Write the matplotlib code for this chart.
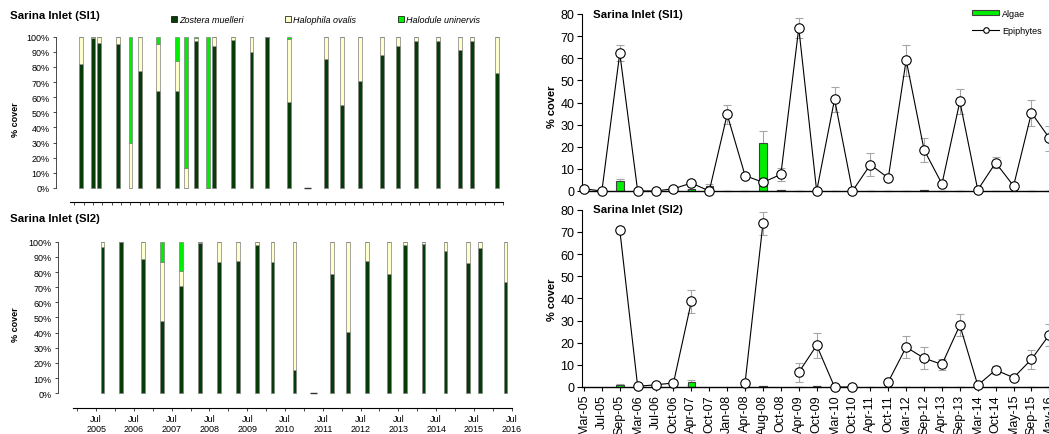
import numpy as np
import pandas as pd
import matplotlib
matplotlib.use('Agg')
import matplotlib.pyplot as plt
from matplotlib.patches import Patch
from matplotlib.lines import Line2D

plt.rcParams['font.family'] = ['Liberation Sans', 'DejaVu Sans']

# survey occasions (right hand panels, categorical axis)
surveys = ['Mar-05', 'Jul-05', 'Sep-05', 'Mar-06', 'Jul-06', 'Oct-06', 'Apr-07', 'Oct-07',
           'Jan-08', 'Apr-08', 'Aug-08', 'Oct-08', 'Apr-09', 'Oct-09', 'Mar-10', 'Oct-10',
           'Apr-11', 'Oct-11', 'Mar-12', 'Sep-12', 'Apr-13', 'Sep-13', 'Mar-14', 'Oct-14',
           'May-15', 'Sep-15', 'May-16']
nan = np.nan

# epiphyte / algae cover (%), SI1
si1_epi = [1, 0, 62.3, 0, 0, 1, 3.6, 0, 34.6, 7, 3.9, 7.5, 73.7, 0, 41.5, 0, 11.9, 5.9,
           59.2, 18.6, 3.2, 40.5, 0.5, 12.8, 2.3, 35.3, 23.9]
si1_epi_se = [0.5, 0, 3.5, 0, 0, 0.5, 1, 0, 4.2, 0.5, 0, 3, 4.7, 0, 5.7, 0, 5.2, 0.5,
              7, 5.3, 0.5, 5.7, 0, 2.4, 0.5, 5.8, 5.7]
si1_alg = [0, 0, 4.4, 0, 0.3, 0, 0.8, 2.3, 0, 0, 21.5, 0.6, 0, 0, 0, 0, 0, 0,
           0, 0.6, 0, 0, 0, 0, 0, 0, 0]
si1_alg_se = [0, 0, 1, 0, 0, 0, 0.3, 0.8, 0, 0, 5.7, 0, 0, 0, 0, 0, 0, 0,
              0, 0, 0, 0, 0, 0, 0, 0, 0]

# epiphyte / algae cover (%), SI2
si2_epi = [nan, nan, 70.9, 0.3, 1, 1.8, 38.6, nan, nan, 1.8, 73.9, nan, 6.6, 18.8, 0, 0,
           nan, 2.3, 18, 13, 10.2, 27.9, 0.8, 7.7, 4.2, 12.5, 23.6]
si2_epi_se = [nan, nan, 0, 0, 0, 0.5, 5.2, nan, nan, 0, 5.2, nan, 4.2, 5.5, 0, 0,
              nan, 0.5, 5, 5, 2.5, 5, 0, 2, 1, 4.2, 5]
si2_alg = [nan, nan, 1, 0, 0, 0, 2.2, nan, nan, 0, 0.6, nan, 0, 0.5, 0, 0,
           0, 0, 0, 0.2, 0, 0, 0, 0.2, 0, 0.2, 0]
si2_alg_se = [nan, nan, 0.5, 0, 0, 0, 1.1, nan, nan, 0, 0, nan, 0, 0, 0, 0,
              0, 0, 0, 0, 0, 0, 0, 0, 0, 0, 0]

# seagrass species composition (% of cover), SI1 - one bar per survey
si1_dates = surveys
si1_zos = [82, 99, 96, 95, 0, 77, 64, 64, 0, 97, 0, 94, 98, 90, 100, 57, 0, 85,
           55, 71, 88, 94, 97, 97, 91, 97, 76]
si1_hal_o = [18, 1, 4, 5, 30, 23, 31, 20, 13, 2, 0, 6, 2, 10, 0, 41.5, 0, 15,
             45, 29, 12, 6, 3, 3, 9, 3, 24]
si1_hal_u = [0, 0, 0, 0, 70, 0, 5, 16, 87, 1, 100, 0, 0, 0, 0, 1.5, 0, 0,
             0, 0, 0, 0, 0, 0, 0, 0, 0]

# SI2
si2_dates = ['Sep-05', 'Mar-06', 'Oct-06', 'Apr-07', 'Oct-07', 'Apr-08', 'Oct-08', 'Apr-09',
             'Oct-09', 'Mar-10', 'Oct-10', 'Apr-11', 'Oct-11', 'Mar-12', 'Sep-12', 'Apr-13',
             'Sep-13', 'Mar-14', 'Oct-14', 'May-15', 'Sep-15', 'May-16']
si2_zos = [96.7, 100, 88.6, 48, 71, 99, 86.8, 87.3, 98, 86.4, 15.4, 0, 78.7, 40.2,
           87.5, 78.7, 97.8, 98.5, 93.8, 85.9, 95.6, 73.6]
si2_hal_o = [3.3, 0, 11.4, 38.5, 10, 1, 13.2, 12.7, 2, 13.6, 84.6, 0, 21.3, 59.8,
             12.5, 21.3, 2.2, 1.5, 6.2, 14.1, 4.4, 26.4]
si2_hal_u = [0, 0, 0, 13.5, 19, 0, 0, 0, 0, 0, 0, 0, 0, 0,
             0, 0, 0, 0, 0, 0, 0, 0]

c_zos = '#073b07'
c_hal_o = '#ffffcc'
c_hal_u = '#00ee00'
c_alg = '#00ee00'
W, H = 1049, 435


def dec_year(labels):
    d = pd.to_datetime(pd.Series(labels), format='%b-%y')
    return (d.dt.year + (d.dt.month - 1) / 12).values


def px_axes(x0, y0, x1, y1):
    # pixel box (origin top left) -> figure fraction rect
    return [x0 / W, 1 - y1 / H, (x1 - x0) / W, (y1 - y0) / H]


fig = plt.figure(figsize=(W / 100, H / 100), dpi=100)


def species_panel(rect, dates, zos, hal_o, hal_u, xlim, xstart, ymin, tick_step, labels):
    ax = fig.add_axes(rect)
    t = dec_year(dates)
    zos, hal_o, hal_u = np.array(zos), np.array(hal_o), np.array(hal_u)
    kw = dict(width=0.1, edgecolor='#808080', linewidth=0.5, zorder=2)
    ax.bar(t, zos, color=c_zos, **kw)
    ax.bar(t, hal_o, bottom=zos, color=c_hal_o, **kw)
    ax.bar(t, hal_u, bottom=zos + hal_o, color=c_hal_u, **kw)
    empty = t[(zos + hal_o + hal_u) == 0]
    ax.hlines(np.zeros(len(empty)), empty - 0.09, empty + 0.09, color='#333333', lw=1)
    ax.set_xlim(*xlim)
    ax.set_ylim(ymin, 100)
    ax.set_yticks(np.arange(0, 101, 10))
    ax.set_yticklabels(['%d%%' % v for v in range(0, 101, 10)], fontsize=6.5)
    ax.spines['left'].set_bounds(0, 100)
    ax.spines['left'].set_linewidth(0.5)
    ax.spines['bottom'].set_bounds(xstart, xlim[1])
    ax.spines['bottom'].set_linewidth(0.8)
    ax.spines['top'].set_visible(False)
    ax.spines['right'].set_visible(False)
    ax.tick_params(axis='y', length=2.5, width=0.5, pad=2)
    ticks = np.arange(2005, 2016.51, tick_step)
    ax.set_xticks(ticks)
    if labels:
        ax.set_xticklabels(['Jul\n%d' % int(v) if v % 1 else '' for v in ticks], fontsize=6.5)
    else:
        ax.set_xticklabels([])
    ax.tick_params(axis='x', length=2, width=0.5, pad=2)
    return ax


ax1 = species_panel(px_axes(56, 37.7, 503.3, 203.3), si1_dates, si1_zos, si1_hal_o, si1_hal_u,
                    (2004.505, 2016.5), 2004.88, -9.5, 0.25, False)
ax2 = species_panel(px_axes(58, 242.7, 511.7, 409), si2_dates, si2_zos, si2_hal_o, si2_hal_u,
                    (2004.491, 2016.5), 2004.883, -9.7, 0.5, True)


def epi_panel(rect, epi, epi_se, alg, alg_se, show_labels):
    ax = fig.add_axes(rect)
    x = np.arange(len(surveys))
    alg = np.array(alg, dtype=float)
    ok = ~np.isnan(alg)
    ax.errorbar(x[ok], alg[ok], yerr=np.array(alg_se, dtype=float)[ok], fmt='none',
                ecolor='#a6a6a6', elinewidth=0.8, capsize=3, capthick=0.8, zorder=1)
    ax.errorbar(x, epi, yerr=epi_se, fmt='none', ecolor='#a6a6a6', elinewidth=0.8,
                capsize=3, capthick=0.8, zorder=1)
    ax.bar(x[ok], alg[ok], width=0.42, color=c_alg, edgecolor='#404040', linewidth=0.8,
           zorder=2, clip_on=False)
    ax.plot(x, epi, color='black', lw=0.8, marker='o', ms=6.8, mfc='white', mec='black',
            mew=0.8, zorder=4, clip_on=False)
    ax.set_xlim(-0.11, 27)
    ax.set_ylim(0, 80)
    ax.set_yticks(range(0, 81, 10))
    ax.tick_params(axis='y', labelsize=9, length=3.5, width=0.8, pad=2)
    ax.spines['top'].set_visible(False)
    ax.spines['right'].set_visible(False)
    ax.spines['left'].set_linewidth(0.8)
    ax.spines['bottom'].set_linewidth(1)
    ax.set_xticks(x)
    if show_labels:
        ax.set_xticklabels(surveys, rotation=90, fontsize=9)
        ax.tick_params(axis='x', length=3, width=0.8, pad=2)
    else:
        ax.set_xticklabels([])
        ax.tick_params(axis='x', length=0)
    return ax


ax3 = epi_panel(px_axes(582, 15, 582 + 27.11 * 17.9, 192), si1_epi, si1_epi_se,
                si1_alg, si1_alg_se, False)
ax4 = epi_panel(px_axes(582, 210.7, 582 + 27.11 * 17.9, 388), si2_epi, si2_epi_se,
                si2_alg, si2_alg_se, True)

# titles and axis labels
for ypx, name in [(16, 'Sarina Inlet (SI1)'), (219, 'Sarina Inlet (SI2)')]:
    fig.text(10 / W, 1 - ypx / H, name, fontsize=8.2, fontweight='bold', va='center')
for ypx, name in [(15, 'Sarina Inlet (SI1)'), (210, 'Sarina Inlet (SI2)')]:
    fig.text(593 / W, 1 - ypx / H, name, fontsize=8.2, fontweight='bold', va='center')
for ypx in [120, 325]:
    fig.text(15 / W, 1 - ypx / H, '% cover', fontsize=6.5, fontweight='bold',
             rotation=90, ha='center', va='center')
for ypx in [107, 300]:
    fig.text(551.7 / W, 1 - ypx / H, '% cover', fontsize=8, fontweight='bold',
             rotation=90, ha='center', va='center')

# legends
sp_handles = [Patch(facecolor=c_zos, edgecolor='black', linewidth=0.5),
              Patch(facecolor=c_hal_o, edgecolor='black', linewidth=0.5),
              Patch(facecolor=c_hal_u, edgecolor='black', linewidth=0.5)]
sp_labels = ['Zostera muelleri', 'Halophila ovalis', 'Halodule uninervis']
fig.legend(sp_handles, sp_labels, loc='upper left', bbox_to_anchor=(171 / W, 1 - 16 / H),
           ncol=3, frameon=False, prop={'size': 6.5, 'style': 'italic'},
           handlelength=0.7, handleheight=0.7, handletextpad=0.2, columnspacing=4.6,
           borderpad=0, borderaxespad=0)

ep_handles = [Patch(facecolor=c_alg, edgecolor='#404040', linewidth=0.8),
              Line2D([], [], color='black', lw=0.8, marker='o', ms=4, mfc='white',
                     mec='black', mew=0.8)]
fig.legend(ep_handles, ['Algae', 'Epiphytes'], loc='upper left',
           bbox_to_anchor=(972 / W, 1 - 10 / H), frameon=False, fontsize=6.5,
           handlelength=3, handleheight=0.5, handletextpad=0.3, labelspacing=0.9,
           borderpad=0, borderaxespad=0)

fig.savefig('out.png', dpi=100)
